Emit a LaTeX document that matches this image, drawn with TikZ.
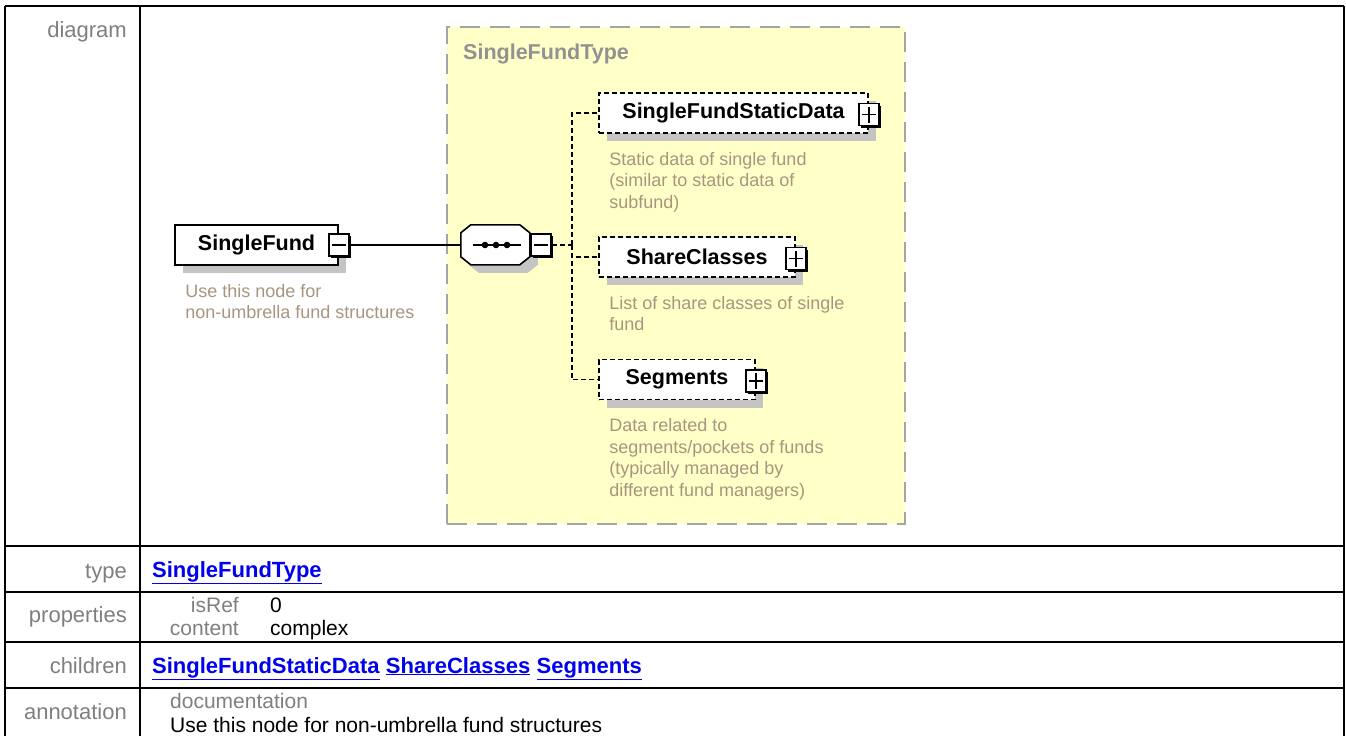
\documentclass[tikz,border=0pt]{standalone}
\usepackage{fontspec}
\setmainfont{Liberation Sans}
\usetikzlibrary{positioning,shadows,calc}

\definecolor{typefill}{HTML}{FFFFC8}
\definecolor{typeline}{HTML}{A4A4A4}
\definecolor{docbrown}{HTML}{A8957F}
\definecolor{shadegray}{HTML}{C4C4C4}
\definecolor{labelgray}{HTML}{7F7F7F}
\definecolor{linkblue}{HTML}{0000EE}

\newcommand{\elemfont}{\fontsize{21.5}{24}\selectfont\bfseries}
\newcommand{\docfont}{\fontsize{18}{21.5}\selectfont}
\newcommand{\tabfont}{\fontsize{21}{24}\selectfont}
\newcommand{\reflink}[1]{\textcolor{linkblue}{\fontsize{22}{24}\selectfont\bfseries\underline{#1}}}

\begin{document}
\begin{tikzpicture}[x=1pt, y=-1pt,
    tabline/.style={line width=2.2pt},
    rowlabel/.style={anchor=base east, inner sep=0pt, text=labelgray, font=\fontsize{22}{24}\selectfont},
    cell/.style={anchor=base west, inner sep=0pt, font=\tabfont},
    typebox/.style={draw=typeline, fill=typefill, line width=2pt, dash pattern=on 20pt off 10pt},
    element/.style={draw, fill=white, line width=1.6pt, minimum height=40pt, inner sep=0pt, font=\elemfont,
        general shadow={fill=shadegray, shadow xshift=8pt, shadow yshift=-8pt}},
    optional/.style={element, dash pattern=on 5pt off 3pt},
    togglebox/.style={draw, fill=white, line width=1.6pt, minimum width=20pt, minimum height=22pt, inner sep=0pt,
        general shadow={fill=black, shadow xshift=2.4pt, shadow yshift=-2.4pt}},
    minusbox/.style={togglebox, path picture={
        \draw[line width=1.8pt] ([xshift=3pt]path picture bounding box.west) -- ([xshift=-3pt]path picture bounding box.east);}},
    plusbox/.style={togglebox, path picture={
        \draw[line width=1.8pt] ([xshift=3pt]path picture bounding box.west) -- ([xshift=-3pt]path picture bounding box.east);
        \draw[line width=1.8pt] ([yshift=3pt]path picture bounding box.south) -- ([yshift=-3pt]path picture bounding box.north);}},
    doc/.style={anchor=north west, inner sep=0pt, align=left, text=docbrown, font=\docfont},
    link/.style={line width=1.6pt},
    optlink/.style={line width=1.7pt, dash pattern=on 5pt off 3pt}
]
\useasboundingbox (0,0) rectangle (1346,736);

% type area
\node[typebox, minimum width=458pt, minimum height=497pt] (sft) at (676,275.5) {};
\node[anchor=west, inner sep=0pt, text=labelgray!85, font=\elemfont] (sftlabel) at (463,54) {SingleFundType};

% the element itself
\node[element, minimum width=163pt] (sfund) at (256.5,245) {SingleFund\hspace{6pt}};
\node[minusbox] (sfminus) at (sfund.east) {};
\node[doc] (sfunddoc) at ([xshift=11pt, yshift=-18pt]sfund.south west) {Use this node for\\non-umbrella fund structures};

% sequence compositor
\node[minimum width=69pt, minimum height=40pt, inner sep=0pt] (seq) at (495.5,245) {};
\fill[shadegray] ([shift={(18pt,-8pt)}]seq.north west) -- ++(49,0) -- ++(10,8) -- ++(0,24) -- ++(-10,8) -- ++(-49,0) -- ++(-10,-8) -- ++(0,-24) -- cycle;
\draw[line width=1.6pt, fill=white] ([xshift=10pt]seq.north west) -- ++(49,0) -- ++(10,8) -- ++(0,24) -- ++(-10,8) -- ++(-49,0) -- ++(-10,-8) -- ++(0,-24) -- cycle;
\draw[line width=1.6pt] ([xshift=-23pt]seq.center) -- ([xshift=25pt]seq.center);
\foreach \dx in {-10.5,0.5,11.5}
    \fill ([xshift=\dx pt]seq.center) circle (3.3);
\node[minusbox, anchor=west] (seqminus) at (seq.east) {};
\coordinate (fork) at ([xshift=20pt]seqminus.east);

% children
\node[optional, minimum width=269pt] (sfsd) at (733.5,113) {SingleFundStaticData\hspace{5pt}};
\node[plusbox] (sfsdplus) at ([yshift=-1.5pt]sfsd.east) {};
\node[doc] (sfsddoc) at ([xshift=11pt, yshift=-18pt]sfsd.south west) {Static data of single fund\\(similar to static data of\\subfund)};

\node[optional, minimum width=196pt] (shcl) at (697,257) {ShareClasses\hspace{6pt}};
\node[plusbox] (shclplus) at ([yshift=-1.5pt]shcl.east) {};
\node[doc] (shcldoc) at ([xshift=11pt, yshift=-18pt]shcl.south west) {List of share classes of single\\fund};

\node[optional, minimum width=156pt] (segm) at (677,379.5) {Segments\hspace{6pt}};
\node[plusbox] (segmplus) at ([yshift=-1.5pt]segm.east) {};
\node[doc] (segmdoc) at ([xshift=11pt, yshift=-18pt]segm.south west) {Data related to\\segments/pockets of funds\\(typically managed by\\different fund managers)};

% connectors
\draw[link] (sfminus.east) -- (seq.west);
\draw[optlink] (seqminus.east) -- (fork);
\draw[optlink] (fork) |- (sfsd.west);
\draw[optlink] (fork) |- (shcl.west);
\draw[optlink] (fork) |- (segm.west);

% table
\draw[tabline] (5,6) -- (1344,6);
\foreach \y in {546,592,642,688}
    \draw[tabline] (5,\y) -- (1344,\y);
\foreach \x in {5,140,1344}
    \draw[tabline] (\x,6) -- (\x,736);

\node[rowlabel] (lbldiagram) at (127,37) {diagram};
\node[rowlabel] (lbltype) at (127,578) {type};
\node[rowlabel] (lblprops) at (127,622) {properties};
\node[rowlabel] (lblchildren) at (127,673) {children};
\node[rowlabel] (lblannot) at (127,719) {annotation};

\node[cell] (typeref) at (152,577) {\reflink{SingleFundType}};

\node[rowlabel, font=\tabfont] (isref) at (239,612) {isRef};
\node[cell] (isrefval) at (270,612) {0};
\node[rowlabel, font=\tabfont] (content) at (239,635) {content};
\node[cell] (contentval) at (270,635) {complex};

\node[cell] (kid1) at (152,673) {\reflink{SingleFundStaticData}};
\node[cell, right=6pt of kid1.base east, anchor=base west] (kid2) {\reflink{ShareClasses}};
\node[cell, right=6pt of kid2.base east, anchor=base west] (kid3) {\reflink{Segments}};

\node[cell, text=labelgray] (docword) at (170,708) {documentation};
\node[cell] (annottext) at (170,732) {Use this node for non-umbrella fund structures};

\end{tikzpicture}
\end{document}
